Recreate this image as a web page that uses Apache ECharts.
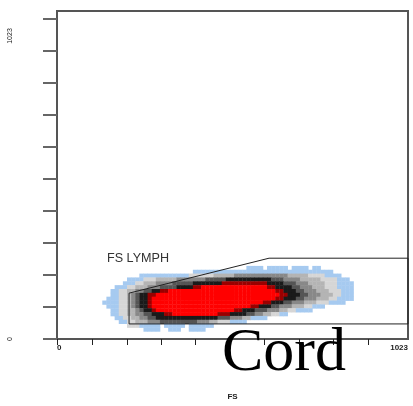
<!DOCTYPE html>
<html>
<head>
<meta charset="utf-8">
<script src="https://cdn.jsdelivr.net/npm/echarts@6/dist/echarts.min.js"></script>
<style>
  html, body { margin: 0; padding: 0; background: #fff; }
  #chart { width: 413px; height: 406px; }
</style>
</head>
<body>
<div id="chart"></div>
<script>
// Channel range and tick positions
const axisMin = 0;
const axisMax = 1023;
const xTicks = [0, 102, 204, 303, 402, 504, 603, 705, 804, 906];
const yTicks = [0, 100, 200, 300, 400, 500, 600, 700, 800, 900, 1000];
const xTickLabels = [0, 1023];
const yTickLabels = [0, 1023];
const xAxisName = 'FS';

// Density bins: each row lists [firstCol, lastCol, level] runs.
// Bin size in channels, x origin of column 0, top edge of row 0.
const binSize = 12;
const binX0 = 132;
const binYTop = 240;
const densityRows = [
  [],
  [[35, 38, 1], [40, 44, 1], [46, 49, 1], [51, 52, 1]],
  [[22, 55, 1]],
  [[9, 20, 1], [21, 26, 2], [27, 31, 3], [32, 44, 4], [45, 49, 3], [50, 53, 2], [54, 57, 1]],
  [[6, 9, 1], [10, 12, 2], [13, 17, 3], [18, 24, 4], [25, 29, 5], [30, 40, 6], [41, 43, 5], [44, 47, 4], [48, 52, 3], [53, 56, 2], [57, 59, 1]],
  [[5, 7, 1], [8, 9, 2], [10, 12, 3], [13, 16, 4], [17, 21, 5], [22, 28, 6], [29, 39, 7], [40, 43, 6], [44, 46, 5], [47, 49, 4], [50, 53, 3], [54, 56, 2], [57, 60, 1]],
  [[3, 5, 1], [6, 7, 2], [8, 10, 3], [11, 13, 4], [14, 17, 5], [18, 21, 6], [22, 23, 7], [24, 39, 8], [40, 41, 7], [42, 45, 6], [46, 47, 5], [48, 50, 4], [51, 53, 3], [54, 56, 2], [57, 60, 1]],
  [[2, 3, 1], [4, 5, 2], [6, 7, 3], [8, 9, 4], [10, 11, 5], [12, 13, 6], [14, 15, 7], [16, 41, 8], [42, 43, 7], [44, 46, 6], [47, 48, 5], [49, 51, 4], [52, 54, 3], [55, 57, 2], [58, 60, 1]],
  [[2, 3, 1], [4, 5, 2], [6, 6, 3], [7, 7, 4], [8, 8, 5], [9, 10, 6], [11, 12, 7], [13, 42, 8], [43, 44, 7], [45, 47, 6], [48, 49, 5], [50, 52, 4], [53, 55, 3], [56, 57, 2], [58, 60, 1]],
  [[1, 3, 1], [4, 5, 2], [6, 6, 3], [7, 7, 4], [8, 8, 5], [9, 10, 6], [11, 11, 7], [12, 41, 8], [42, 43, 7], [44, 46, 6], [47, 48, 5], [49, 51, 4], [52, 54, 3], [55, 56, 2], [57, 60, 1]],
  [[0, 3, 1], [4, 5, 2], [6, 6, 3], [7, 7, 4], [8, 8, 5], [9, 10, 6], [11, 11, 7], [12, 38, 8], [39, 40, 7], [41, 43, 6], [44, 45, 5], [46, 48, 4], [49, 51, 3], [52, 54, 2], [55, 58, 1]],
  [[1, 3, 1], [4, 5, 2], [6, 6, 3], [7, 7, 4], [8, 8, 5], [9, 10, 6], [11, 11, 7], [12, 35, 8], [36, 37, 7], [38, 40, 6], [41, 42, 5], [43, 45, 4], [46, 48, 3], [49, 50, 2], [51, 53, 1]],
  [[2, 3, 1], [4, 5, 2], [6, 7, 3], [8, 8, 4], [9, 9, 5], [10, 11, 6], [12, 12, 7], [13, 31, 8], [32, 33, 7], [34, 36, 6], [37, 39, 5], [40, 42, 4], [43, 44, 3], [45, 46, 2], [47, 50, 1]],
  [[2, 3, 1], [4, 5, 2], [6, 7, 3], [8, 9, 4], [10, 11, 5], [12, 14, 6], [15, 16, 7], [17, 27, 8], [28, 30, 7], [31, 34, 6], [35, 36, 5], [37, 38, 4], [39, 40, 3], [41, 42, 2], [43, 44, 1]],
  [[3, 4, 1], [5, 6, 2], [7, 8, 3], [9, 10, 4], [11, 12, 5], [13, 27, 6], [28, 30, 5], [31, 33, 4], [34, 35, 3], [36, 39, 1]],
  [[4, 5, 1], [6, 7, 2], [8, 10, 3], [11, 13, 4], [14, 22, 5], [23, 25, 4], [26, 27, 3], [28, 30, 2], [31, 34, 1]],
  [[6, 8, 2], [9, 13, 1], [15, 19, 1], [21, 26, 1]],
  [[10, 13, 1], [16, 18, 1], [21, 24, 1]],
  []
];
// Colour of each density level (0 = empty)
const levelColors = ['#ffffff', '#a6caf0', '#d6d6d6', '#b4b4b4', '#888888', '#555555', '#1a1a1a', '#9a0000', '#ff0000'];

// FS LYMPH gate outline, in channels
const gateName = 'FS LYMPH';
const gateX = [210, 210, 618, 1023, 1023, 210];
const gateY = [47, 143, 252, 252, 47, 47];

const sampleTitle = 'Cord';

// Expand the runs into one item per bin: [x, y, level]
const binData = [];
densityRows.forEach(function (runs, r) {
  const y = binYTop - binSize * (r + 1);
  runs.forEach(function (run) {
    for (let c = run[0]; c <= run[1]; c++) {
      binData.push([binX0 + binSize * c, y, run[2]]);
    }
  });
});

const gateData = gateX.map(function (x, i) { return [x, gateY[i]]; });

const chart = echarts.init(document.getElementById('chart'), null, { renderer: 'canvas' });

chart.setOption({
  animation: false,
  backgroundColor: '#ffffff',
  grid: {
    left: 57, right: 5, top: 11, bottom: 66,
    show: true,
    borderColor: '#555555',
    borderWidth: 2,
    backgroundColor: 'transparent'
  },
  xAxis: {
    type: 'value',
    min: axisMin,
    max: axisMax,
    name: xAxisName,
    nameLocation: 'middle',
    nameGap: 54,
    nameTextStyle: { fontFamily: 'Liberation Sans', fontSize: 8, fontWeight: 'bold', color: '#222' },
    splitLine: { show: false },
    axisLine: { lineStyle: { color: '#555555', width: 2 } },
    axisTick: { customValues: xTicks, length: 6, lineStyle: { color: '#222', width: 1 } },
    axisLabel: {
      customValues: xTickLabels,
      alignMinLabel: 'left',
      alignMaxLabel: 'right',
      margin: 5,
      fontFamily: 'Liberation Sans',
      fontSize: 8,
      fontWeight: 'bold',
      color: '#222',
      formatter: function (v) { return String(v); }
    }
  },
  yAxis: {
    type: 'value',
    min: axisMin,
    max: axisMax,
    splitLine: { show: false },
    axisLine: { lineStyle: { color: '#555555', width: 2 } },
    axisTick: { customValues: yTicks, length: 14, lineStyle: { color: '#666', width: 2 } },
    axisLabel: {
      customValues: yTickLabels,
      rotate: 90,
      margin: 43,
      fontFamily: 'Liberation Sans',
      fontSize: 7,
      color: '#222',
      formatter: function (v) {
        return v === axisMax ? '{top|' + v + '}' : String(v);
      },
      rich: {
        top: { fontFamily: 'Liberation Sans', fontSize: 7, color: '#222', padding: [0, 50, 0, 0] }
      }
    }
  },
  series: [
    {
      type: 'custom',
      name: 'density',
      data: binData,
      renderItem: function (params, api) {
        const x = api.value(0);
        const y = api.value(1);
        const lvl = api.value(2);
        const p0 = api.coord([x, y + binSize]);
        const p1 = api.coord([x + binSize, y]);
        return {
          type: 'rect',
          shape: { x: p0[0], y: p0[1], width: p1[0] - p0[0] + 0.4, height: p1[1] - p0[1] + 0.4 },
          style: { fill: levelColors[lvl] }
        };
      },
      z: 2
    },
    {
      type: 'line',
      name: gateName,
      data: gateData,
      symbol: 'none',
      lineStyle: { color: '#222222', width: 1 },
      clip: false,
      z: 3
    }
  ],
  graphic: [
    {
      type: 'text',
      left: 107,
      top: 252,
      style: { text: gateName, font: '12.6px "Liberation Sans"', fill: '#333' },
      z: 10
    },
    {
      type: 'text',
      left: 222,
      top: 323,
      style: { text: sampleTitle, font: '62px "Liberation Serif"', fill: '#000' },
      z: 10
    }
  ]
});
</script>
</body>
</html>
